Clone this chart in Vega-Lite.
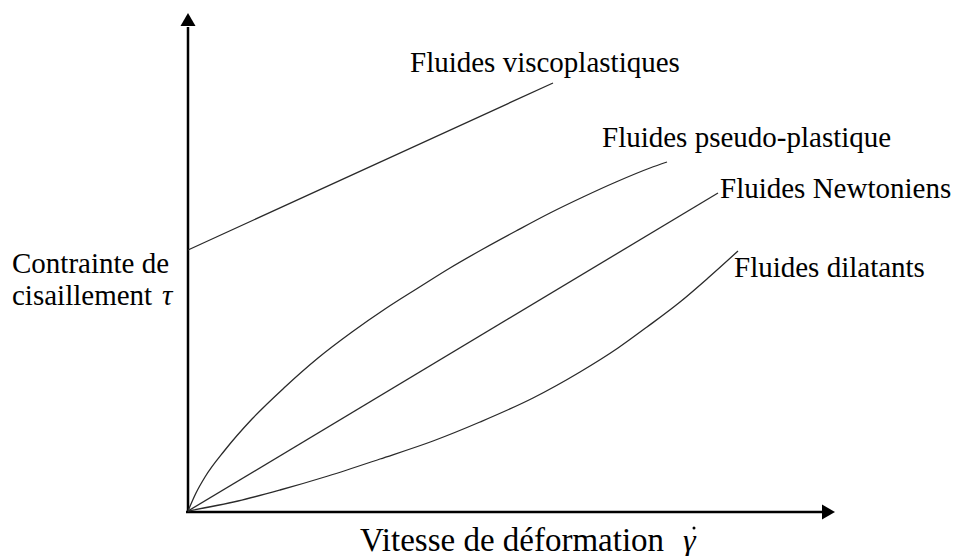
{
  "$schema": "https://vega.github.io/schema/vega-lite/v6.json",
  "width": 956,
  "height": 556,
  "padding": 0,
  "autosize": {"type": "none"},
  "background": "white",
  "config": {"view": {"stroke": null}},
  "datasets": {
    "curves": [
      {"fluid": "viscoplastique", "rate": 0, "stress": 261, "k": 0},
      {"fluid": "viscoplastique", "rate": 365, "stress": 428, "k": 1},
      {"fluid": "pseudo", "rate": 0, "stress": 0, "k": 0},
      {"fluid": "pseudo", "rate": 8, "stress": 18, "k": 1},
      {"fluid": "pseudo", "rate": 17, "stress": 34, "k": 2},
      {"fluid": "pseudo", "rate": 37, "stress": 61, "k": 3},
      {"fluid": "pseudo", "rate": 64, "stress": 92, "k": 4},
      {"fluid": "pseudo", "rate": 97, "stress": 124, "k": 5},
      {"fluid": "pseudo", "rate": 130, "stress": 153, "k": 6},
      {"fluid": "pseudo", "rate": 164, "stress": 179, "k": 7},
      {"fluid": "pseudo", "rate": 197, "stress": 202, "k": 8},
      {"fluid": "pseudo", "rate": 230, "stress": 223, "k": 9},
      {"fluid": "pseudo", "rate": 262, "stress": 243, "k": 10},
      {"fluid": "pseudo", "rate": 295, "stress": 262, "k": 11},
      {"fluid": "pseudo", "rate": 328, "stress": 280, "k": 12},
      {"fluid": "pseudo", "rate": 362, "stress": 298, "k": 13},
      {"fluid": "pseudo", "rate": 395, "stress": 314, "k": 14},
      {"fluid": "pseudo", "rate": 428, "stress": 329, "k": 15},
      {"fluid": "pseudo", "rate": 462, "stress": 343, "k": 16},
      {"fluid": "pseudo", "rate": 479, "stress": 349, "k": 17},
      {"fluid": "newtonien", "rate": 0, "stress": 0, "k": 0},
      {"fluid": "newtonien", "rate": 530, "stress": 318, "k": 1},
      {"fluid": "dilatant", "rate": 0, "stress": 0, "k": 0},
      {"fluid": "dilatant", "rate": 50, "stress": 10, "k": 1},
      {"fluid": "dilatant", "rate": 92, "stress": 21, "k": 2},
      {"fluid": "dilatant", "rate": 140, "stress": 35, "k": 3},
      {"fluid": "dilatant", "rate": 192, "stress": 52, "k": 4},
      {"fluid": "dilatant", "rate": 245, "stress": 70, "k": 5},
      {"fluid": "dilatant", "rate": 292, "stress": 89, "k": 6},
      {"fluid": "dilatant", "rate": 345, "stress": 113, "k": 7},
      {"fluid": "dilatant", "rate": 392, "stress": 139, "k": 8},
      {"fluid": "dilatant", "rate": 430, "stress": 163, "k": 9},
      {"fluid": "dilatant", "rate": 459, "stress": 184, "k": 10},
      {"fluid": "dilatant", "rate": 492, "stress": 209, "k": 11},
      {"fluid": "dilatant", "rate": 520, "stress": 233, "k": 12},
      {"fluid": "dilatant", "rate": 550, "stress": 260, "k": 13}
    ],
    "axes": [
      {"axis": "y", "x1": 0, "y1": -1, "x2": 0, "y2": 484},
      {"axis": "x", "x1": -2, "y1": -1, "x2": 634, "y2": -1}
    ],
    "arrows": [
      {"shape": "triangle-up", "rate": 0, "stress": 491.5},
      {"shape": "triangle-right", "rate": 640.5, "stress": -1}
    ],
    "labels": [
      {"t": "Fluides viscoplastiques", "rate": 222, "stress": 439},
      {"t": "Fluides pseudo-plastique", "rate": 414, "stress": 364},
      {"t": "Fluides Newtoniens", "rate": 532, "stress": 313},
      {"t": "Fluides dilatants", "rate": 546, "stress": 234},
      {"t": "Contrainte de", "rate": -176, "stress": 238},
      {"t": "cisaillement", "rate": -176, "stress": 206}
    ],
    "xlabel": [
      {"t": "Vitesse de déformation", "rate": 172, "stress": -40}
    ],
    "symbols": [
      {"t": "τ", "rate": -26, "stress": 206}
    ],
    "xsymbols": [
      {"t": "γ", "rate": 495, "stress": -40}
    ],
    "dots": [
      {"rate": 506, "stress": -17}
    ]
  },
  "layer": [
    {
      "data": {"name": "axes"},
      "mark": {"type": "rule", "color": "black", "strokeWidth": 2.5},
      "encoding": {
        "x": {"field": "x1", "type": "quantitative", "scale": {"domain": [-188, 768], "nice": false, "zero": false}, "axis": null},
        "y": {"field": "y1", "type": "quantitative", "scale": {"domain": [-45, 511], "nice": false, "zero": false}, "axis": null},
        "x2": {"field": "x2"},
        "y2": {"field": "y2"}
      }
    },
    {
      "data": {"name": "arrows"},
      "mark": {"type": "point", "filled": true, "color": "black", "opacity": 1, "size": 225, "strokeWidth": 0},
      "encoding": {
        "x": {"field": "rate", "type": "quantitative"},
        "y": {"field": "stress", "type": "quantitative"},
        "shape": {"field": "shape", "type": "nominal", "scale": null, "legend": null}
      }
    },
    {
      "data": {"name": "curves"},
      "mark": {"type": "line", "color": "#2a2a2a", "strokeWidth": 1.3, "interpolate": "monotone"},
      "encoding": {
        "x": {"field": "rate", "type": "quantitative"},
        "y": {"field": "stress", "type": "quantitative"},
        "detail": {"field": "fluid", "type": "nominal"},
        "order": {"field": "k", "type": "quantitative"}
      }
    },
    {
      "data": {"name": "labels"},
      "mark": {"type": "text", "font": "Liberation Serif", "fontSize": 29, "align": "left", "baseline": "alphabetic", "color": "black"},
      "encoding": {
        "x": {"field": "rate", "type": "quantitative"},
        "y": {"field": "stress", "type": "quantitative"},
        "text": {"field": "t", "type": "nominal"}
      }
    },
    {
      "data": {"name": "xlabel"},
      "mark": {"type": "text", "font": "Liberation Serif", "fontSize": 33, "align": "left", "baseline": "alphabetic", "color": "black"},
      "encoding": {
        "x": {"field": "rate", "type": "quantitative"},
        "y": {"field": "stress", "type": "quantitative"},
        "text": {"field": "t", "type": "nominal"}
      }
    },
    {
      "data": {"name": "symbols"},
      "mark": {"type": "text", "font": "Liberation Serif", "fontSize": 29, "fontStyle": "italic", "align": "left", "baseline": "alphabetic", "color": "black"},
      "encoding": {
        "x": {"field": "rate", "type": "quantitative"},
        "y": {"field": "stress", "type": "quantitative"},
        "text": {"field": "t", "type": "nominal"}
      }
    },
    {
      "data": {"name": "xsymbols"},
      "mark": {"type": "text", "font": "Liberation Serif", "fontSize": 32, "fontStyle": "italic", "align": "left", "baseline": "alphabetic", "color": "black"},
      "encoding": {
        "x": {"field": "rate", "type": "quantitative"},
        "y": {"field": "stress", "type": "quantitative"},
        "text": {"field": "t", "type": "nominal"}
      }
    },
    {
      "data": {"name": "dots"},
      "mark": {"type": "point", "shape": "circle", "filled": true, "color": "black", "opacity": 1, "size": 9, "strokeWidth": 0},
      "encoding": {
        "x": {"field": "rate", "type": "quantitative"},
        "y": {"field": "stress", "type": "quantitative"}
      }
    }
  ]
}
